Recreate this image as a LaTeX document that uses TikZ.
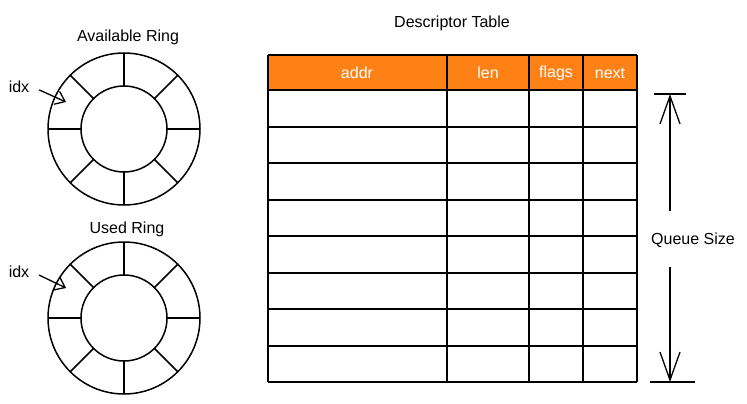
\documentclass[tikz,border=0pt]{standalone}
\usepackage{fontspec}
\setmainfont{Liberation Sans}
\usetikzlibrary{arrows.meta}
\definecolor{hdrorange}{HTML}{FD8114}
\begin{document}
\begin{tikzpicture}[x=1pt,y=-1pt,
    every node/.style={font=\fontsize{16}{18}\selectfont},
    ring/.style={line width=1.5pt},
    cellline/.style={line width=1.5pt},
    hdrtext/.style={text=white},
    pointer/.style={line width=1.3pt,-{Straight Barb[length=9pt,width=14pt]}},
    sizearrow/.style={line width=1.3pt,-{Straight Barb[length=28pt,width=20pt]}}]
  \useasboundingbox (0,0) rectangle (747,404);
  % the two rings
  \coordinate (availring) at (124,129);
  \coordinate (usedring) at (124,318);
  \foreach \c in {availring,usedring} {
    \draw[ring] (\c) circle (76pt);
    \draw[ring] (\c) circle (43pt);
    \foreach \a in {0,45,...,315}
      \draw[ring] (\c) ++(\a:43pt) -- ++(\a:33pt);
  }
  \node (availlbl) at (128,37) {Available Ring};
  \node (usedlbl) at (127,229) {Used Ring};
  \node (availidx) at (19,87) {idx};
  \node (usedidx) at (19,272) {idx};
  \coordinate (availslot) at (66,102);
  \coordinate (usedslot) at (66,288);
  \draw[pointer,shorten <=7pt] (availidx.east) -- (availslot);
  \draw[pointer,shorten <=7pt] (usedidx.east) -- (usedslot);
  % descriptor table
  \node (tbltitle) at (452,23) {Descriptor Table};
  \fill[hdrorange] (268,55) rectangle (637,90);
  \foreach \y in {55,90,127,163,200,236,273,309,346,382}
    \draw[cellline] (268,\y) -- (637,\y);
  \foreach \x in {268,447,529,583,637}
    \draw[cellline] (\x,55) -- (\x,382);
  \node[hdrtext] (addr) at (357,73) {addr};
  \node[hdrtext] (len) at (488,73) {len};
  \node[hdrtext] (flags) at (556,73) {flags};
  \node[hdrtext] (next) at (610,73) {next};
  % queue size
  \node (qsize) at (693,240) {Queue Size};
  \coordinate (qtop) at (670,94);
  \coordinate (qbot) at (670,382);
  \draw[line width=1.3pt] (654,94) -- (686,94);
  \draw[line width=1.3pt] (650,382) -- (695,382);
  \draw[sizearrow,shorten <=18pt] (qsize.north -| qtop) -- (qtop);
  \draw[sizearrow,shorten <=16pt] (qsize.south -| qbot) -- (qbot);
\end{tikzpicture}
\end{document}
